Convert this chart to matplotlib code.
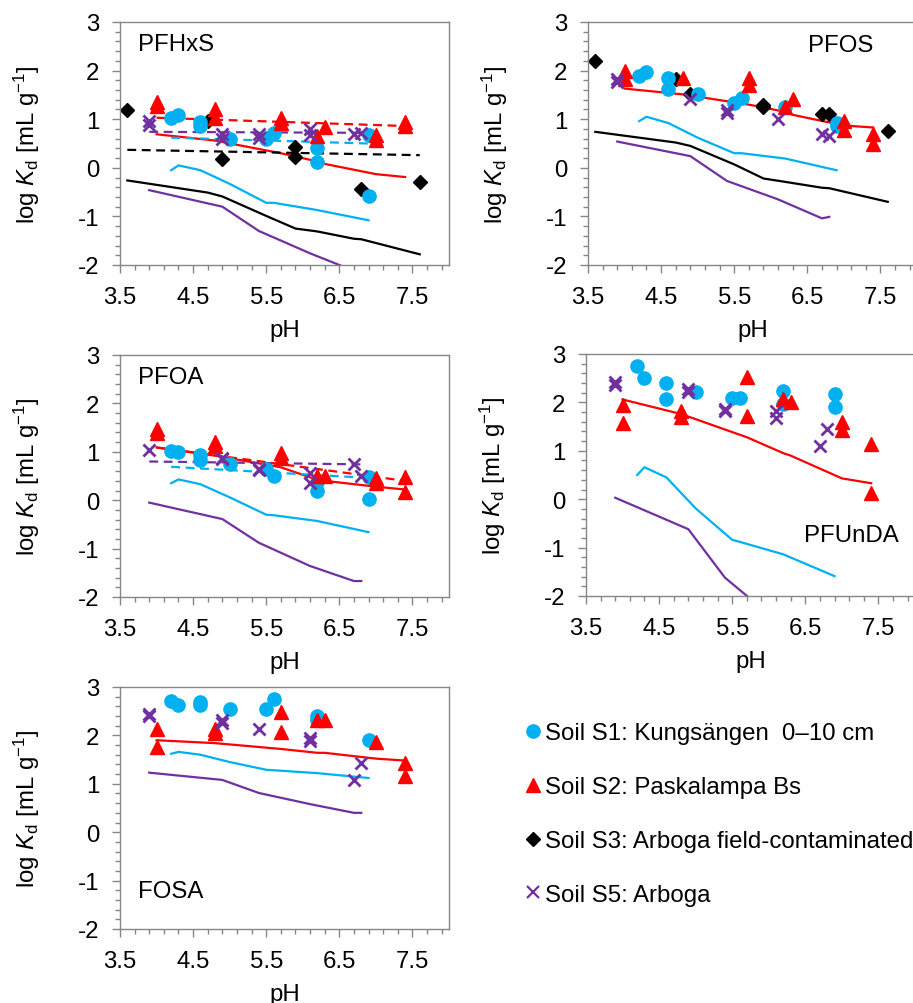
import matplotlib
matplotlib.use("Agg")
import matplotlib.pyplot as plt
from matplotlib.lines import Line2D
from matplotlib.ticker import FixedLocator, MultipleLocator
import numpy as np

plt.rcParams['font.family'] = ['Liberation Sans', 'DejaVu Sans']
plt.rcParams['mathtext.fontset'] = 'custom'
plt.rcParams['mathtext.rm'] = 'Liberation Sans'
plt.rcParams['mathtext.it'] = 'Liberation Sans:italic'
plt.rcParams['axes.unicode_minus'] = False

# colours of the four soils
c_s1 = '#00B0F0'
c_s2 = '#FF0000'
c_s3 = '#000000'
c_s5 = '#7030A0'

# model pH grids (solid lines)
ph_s1 = [4.2, 4.3, 4.6, 5.0, 5.5, 5.6, 6.2, 6.9]
ph_s2 = [4.0, 4.8, 5.7, 6.2, 6.3, 7.0, 7.4]
ph_s3 = [3.6, 4.7, 4.9, 5.5, 5.9, 6.2, 6.7, 6.8, 7.6]
ph_s5 = [3.9, 4.9, 5.4, 6.1, 6.7, 6.8]

# ---- PFHxS
pfhxs_s1_ph = [4.2, 4.3, 4.6, 4.6, 5.0, 5.5, 5.6, 6.2, 6.2, 6.9, 6.9]
pfhxs_s1_kd = [1.03, 1.09, 0.85, 0.95, 0.59, 0.59, 0.72, 0.41, 0.11, 0.67, -0.57]
pfhxs_s2_ph = [4.0, 4.0, 4.8, 4.8, 5.7, 5.7, 6.2, 6.3, 7.0, 7.0, 7.4, 7.4]
pfhxs_s2_kd = [1.35, 1.27, 1.22, 1.02, 1.02, 0.93, 0.65, 0.83, 0.68, 0.57, 0.95, 0.85]
pfhxs_s3_ph = [3.6, 4.7, 4.9, 5.9, 5.9, 6.8, 7.6]
pfhxs_s3_kd = [1.19, 0.96, 0.18, 0.43, 0.23, -0.44, -0.29]
pfhxs_s5_ph = [3.9, 3.9, 4.9, 4.9, 5.4, 5.4, 6.1, 6.1, 6.7, 6.8]
pfhxs_s5_kd = [0.97, 0.88, 0.69, 0.59, 0.69, 0.62, 0.79, 0.67, 0.69, 0.72]
pfhxs_m1 = [-0.05, 0.05, -0.05, -0.33, -0.72, -0.72, -0.87, -1.08]
pfhxs_m2 = [0.69, 0.56, 0.30, 0.13, 0.08, -0.13, -0.19]
pfhxs_m3 = [-0.26, -0.51, -0.59, -0.99, -1.25, -1.31, -1.46, -1.47, -1.78]
pfhxs_m5 = [-0.46, -0.80, -1.30, -1.76, -2.12, -2.2]
# dashed fits: (pH start, pH end), (value start, value end)
pfhxs_fit1 = ([4.2, 6.9], [0.62, 0.50])
pfhxs_fit2 = ([4.0, 7.4], [1.03, 0.86])
pfhxs_fit3 = ([3.6, 7.6], [0.37, 0.26])
pfhxs_fit5 = ([3.9, 6.8], [0.74, 0.72])

# ---- PFOS
pfos_s1_ph = [4.2, 4.3, 4.6, 4.6, 5.0, 5.5, 5.6, 6.2, 6.9, 6.9]
pfos_s1_kd = [1.89, 1.97, 1.85, 1.63, 1.51, 1.34, 1.44, 1.26, 0.92, 0.85]
pfos_s2_ph = [4.0, 4.0, 4.8, 5.7, 5.7, 6.2, 6.3, 7.0, 7.0, 7.4, 7.4]
pfos_s2_kd = [1.99, 1.82, 1.84, 1.85, 1.70, 1.26, 1.41, 0.96, 0.78, 0.69, 0.50]
pfos_s3_ph = [3.6, 4.7, 4.9, 5.9, 5.9, 6.7, 6.8, 7.6]
pfos_s3_kd = [2.20, 1.82, 1.51, 1.29, 1.25, 1.10, 1.10, 0.76]
pfos_s5_ph = [3.9, 3.9, 4.9, 5.4, 5.4, 6.1, 6.7, 6.8]
pfos_s5_kd = [1.82, 1.77, 1.41, 1.13, 1.19, 1.00, 0.69, 0.65]
pfos_m1 = [0.96, 1.05, 0.92, 0.62, 0.30, 0.30, 0.19, -0.05]
pfos_m2 = [1.63, 1.51, 1.30, 1.15, 1.09, 0.87, 0.83]
pfos_m3 = [0.74, 0.52, 0.45, 0.07, -0.22, -0.29, -0.41, -0.42, -0.70]
pfos_m5 = [0.54, 0.24, -0.27, -0.65, -1.04, -1.01]

# ---- PFOA
pfoa_s1_ph = [4.2, 4.3, 4.6, 4.6, 5.0, 5.5, 5.6, 6.2, 6.2, 6.9, 6.9]
pfoa_s1_kd = [1.02, 1.00, 0.94, 0.83, 0.74, 0.64, 0.50, 0.37, 0.19, 0.47, 0.02]
pfoa_s2_ph = [4.0, 4.0, 4.8, 4.8, 5.7, 5.7, 6.2, 6.3, 7.0, 7.0, 7.4, 7.4]
pfoa_s2_kd = [1.48, 1.38, 1.20, 1.12, 0.97, 0.88, 0.50, 0.50, 0.45, 0.35, 0.48, 0.16]
pfoa_s5_ph = [3.9, 4.9, 4.9, 5.4, 5.4, 6.1, 6.1, 6.7, 6.8]
pfoa_s5_kd = [1.03, 0.88, 0.85, 0.64, 0.62, 0.56, 0.35, 0.74, 0.50]
pfoa_m1 = [0.35, 0.43, 0.33, 0.06, -0.30, -0.31, -0.43, -0.66]
pfoa_m2 = [1.09, 0.92, 0.68, 0.42, 0.40, 0.28, 0.22]
pfoa_m5 = [-0.05, -0.39, -0.88, -1.36, -1.67, -1.67]
pfoa_fit1 = ([4.2, 6.9], [0.69, 0.46])
pfoa_fit2 = ([4.0, 7.4], [1.09, 0.40])
pfoa_fit5 = ([3.9, 6.8], [0.80, 0.74])

# ---- PFUnDA
pfunda_s1_ph = [4.2, 4.3, 4.6, 4.6, 5.0, 5.5, 5.6, 6.2, 6.2, 6.9, 6.9]
pfunda_s1_kd = [2.76, 2.50, 2.41, 2.06, 2.21, 2.10, 2.10, 2.24, 1.97, 2.17, 1.90]
pfunda_s2_ph = [4.0, 4.0, 4.8, 4.8, 5.7, 5.7, 6.2, 6.3, 7.0, 7.0, 7.4, 7.4]
pfunda_s2_kd = [1.94, 1.57, 1.83, 1.69, 2.53, 1.71, 2.07, 2.00, 1.60, 1.43, 1.14, 0.12]
pfunda_s5_ph = [3.9, 3.9, 4.9, 4.9, 5.4, 5.4, 6.1, 6.1, 6.7, 6.8]
pfunda_s5_kd = [2.43, 2.36, 2.28, 2.21, 1.86, 1.82, 1.83, 1.67, 1.10, 1.45]
pfunda_m1 = [0.50, 0.66, 0.45, -0.19, -0.84, -0.88, -1.14, -1.59]
pfunda_m2 = [2.06, 1.76, 1.28, 0.95, 0.90, 0.43, 0.33]
pfunda_m5 = [0.03, -0.62, -1.62, -2.5, -3.0, -3.0]

# ---- FOSA
fosa_s1_ph = [4.2, 4.3, 4.6, 4.6, 5.0, 5.5, 5.6, 6.2, 6.2, 6.9]
fosa_s1_kd = [2.72, 2.63, 2.70, 2.62, 2.54, 2.54, 2.75, 2.41, 2.31, 1.90]
fosa_s2_ph = [4.0, 4.0, 4.8, 4.8, 5.7, 5.7, 6.2, 6.3, 7.0, 7.4, 7.4]
fosa_s2_kd = [2.14, 1.76, 2.14, 2.05, 2.48, 2.07, 2.31, 2.31, 1.86, 1.43, 1.17]
fosa_s5_ph = [3.9, 3.9, 4.9, 4.9, 5.4, 6.1, 6.1, 6.7, 6.8]
fosa_s5_kd = [2.45, 2.41, 2.31, 2.26, 2.14, 1.94, 1.88, 1.07, 1.43]
fosa_m1 = [1.62, 1.66, 1.60, 1.45, 1.29, 1.28, 1.22, 1.12]
fosa_m2 = [1.90, 1.84, 1.72, 1.64, 1.64, 1.52, 1.48]
fosa_m5 = [1.23, 1.08, 0.81, 0.58, 0.40, 0.40]

legend_labels = ['Soil S1: Kungsängen  0\u201310 cm', 'Soil S2: Paskalampa Bs',
                 'Soil S3: Arboga field-contaminated', 'Soil S5: Arboga']

FS = 17.3
W, H = 913, 1004
fig = plt.figure(figsize=(W / 100, H / 100), dpi=100)


def make_axes(left, top, width=329, height=243):
    """axes from pixel box"""
    return fig.add_axes([left / W, 1 - (top + height) / H, width / W, height / H])


def style_axes(ax):
    ax.set_xlim(3.5, 8.0)
    ax.set_ylim(-2, 3)
    ax.xaxis.set_major_locator(FixedLocator([3.5, 4.5, 5.5, 6.5, 7.5]))
    ax.xaxis.set_minor_locator(FixedLocator(np.arange(3.5, 8.01, 0.2)))
    ax.set_xticklabels(['3.5', '4.5', '5.5', '6.5', '7.5'])
    ax.yaxis.set_major_locator(MultipleLocator(1))
    ax.yaxis.set_minor_locator(MultipleLocator(0.2))
    ax.tick_params(which='major', direction='out', length=6, width=1, color='#868686',
                   labelsize=FS)
    ax.tick_params(axis='x', which='major', pad=9)
    ax.tick_params(axis='y', which='major', pad=9)
    ax.tick_params(which='minor', direction='out', length=3.5, width=1, color='#868686')
    for s in ax.spines.values():
        s.set_color('#868686')
        s.set_linewidth(1)
    ax.set_xlabel('pH', fontsize=FS, labelpad=8)
    ax.set_ylabel(r'log $K_\mathregular{d}$ [mL g$^{-1}$]', fontsize=FS, labelpad=26)


def plot_models(ax, m1, m2, m3=None, m5=None):
    lw = 1.6
    if m3 is not None:
        ax.plot(ph_s3, m3, color=c_s3, lw=lw)
    ax.plot(ph_s5, m5, color=c_s5, lw=lw)
    ax.plot(ph_s1, m1, color=c_s1, lw=lw)
    ax.plot(ph_s2, m2, color=c_s2, lw=lw)


def plot_fit(ax, fit, color):
    ax.plot(fit[0], fit[1], color=color, lw=1.6, linestyle=(0, (4, 2.5)))


def plot_points(ax, s1, s2, s3=None, s5=None):
    if s3 is not None:
        ax.plot(s3[0], s3[1], 'D', color=c_s3, ms=7.5, linestyle='none')
    ax.plot(s1[0], s1[1], 'o', color=c_s1, ms=9.5, linestyle='none')
    ax.plot(s2[0], s2[1], '^', color=c_s2, ms=9.5, linestyle='none')
    ax.plot(s5[0], s5[1], 'x', color=c_s5, ms=8.5, mew=2, linestyle='none')


# PFHxS
ax1 = make_axes(120, 23)
style_axes(ax1)
plot_models(ax1, pfhxs_m1, pfhxs_m2, pfhxs_m3, pfhxs_m5)
plot_fit(ax1, pfhxs_fit3, c_s3)
plot_fit(ax1, pfhxs_fit1, c_s1)
plot_fit(ax1, pfhxs_fit5, c_s5)
plot_fit(ax1, pfhxs_fit2, c_s2)
plot_points(ax1, (pfhxs_s1_ph, pfhxs_s1_kd), (pfhxs_s2_ph, pfhxs_s2_kd),
            (pfhxs_s3_ph, pfhxs_s3_kd), (pfhxs_s5_ph, pfhxs_s5_kd))
ax1.text(0.055, 0.91, 'PFHxS', transform=ax1.transAxes, fontsize=FS, va='center')

# PFOS
ax2 = make_axes(588, 23)
style_axes(ax2)
plot_models(ax2, pfos_m1, pfos_m2, pfos_m3, pfos_m5)
plot_points(ax2, (pfos_s1_ph, pfos_s1_kd), (pfos_s2_ph, pfos_s2_kd),
            (pfos_s3_ph, pfos_s3_kd), (pfos_s5_ph, pfos_s5_kd))
ax2.text(0.866, 0.905, 'PFOS', transform=ax2.transAxes, fontsize=FS, va='center', ha='right')

# PFOA
ax3 = make_axes(120, 356, height=242)
style_axes(ax3)
plot_models(ax3, pfoa_m1, pfoa_m2, None, pfoa_m5)
plot_fit(ax3, pfoa_fit1, c_s1)
plot_fit(ax3, pfoa_fit5, c_s5)
plot_fit(ax3, pfoa_fit2, c_s2)
plot_points(ax3, (pfoa_s1_ph, pfoa_s1_kd), (pfoa_s2_ph, pfoa_s2_kd),
            None, (pfoa_s5_ph, pfoa_s5_kd))
ax3.text(0.055, 0.91, 'PFOA', transform=ax3.transAxes, fontsize=FS, va='center')

# PFUnDA
ax4 = make_axes(586, 355, height=242)
style_axes(ax4)
plot_models(ax4, pfunda_m1, pfunda_m2, None, pfunda_m5)
plot_points(ax4, (pfunda_s1_ph, pfunda_s1_kd), (pfunda_s2_ph, pfunda_s2_kd),
            None, (pfunda_s5_ph, pfunda_s5_kd))
ax4.text(0.951, 0.25, 'PFUnDA', transform=ax4.transAxes, fontsize=FS, va='center', ha='right')

# FOSA
ax5 = make_axes(120, 688, height=242)
style_axes(ax5)
plot_models(ax5, fosa_m1, fosa_m2, None, fosa_m5)
plot_points(ax5, (fosa_s1_ph, fosa_s1_kd), (fosa_s2_ph, fosa_s2_kd),
            None, (fosa_s5_ph, fosa_s5_kd))
ax5.text(0.055, 0.157, 'FOSA', transform=ax5.transAxes, fontsize=FS, va='center')

# legend
handles = [Line2D([], [], marker='o', color=c_s1, ms=9.5, linestyle='none'),
           Line2D([], [], marker='^', color=c_s2, ms=9.5, linestyle='none'),
           Line2D([], [], marker='D', color=c_s3, ms=7.5, linestyle='none'),
           Line2D([], [], marker='x', color=c_s5, ms=8, mew=1.6, linestyle='none')]
fig.legend(handles, legend_labels, loc='upper left', bbox_to_anchor=(523 / W, 1 - 723 / H),
           frameon=False, fontsize=FS, handlelength=0.8, handletextpad=0.12,
           labelspacing=1.33, borderaxespad=0, borderpad=0)

fig.savefig('out.png', dpi=100)
